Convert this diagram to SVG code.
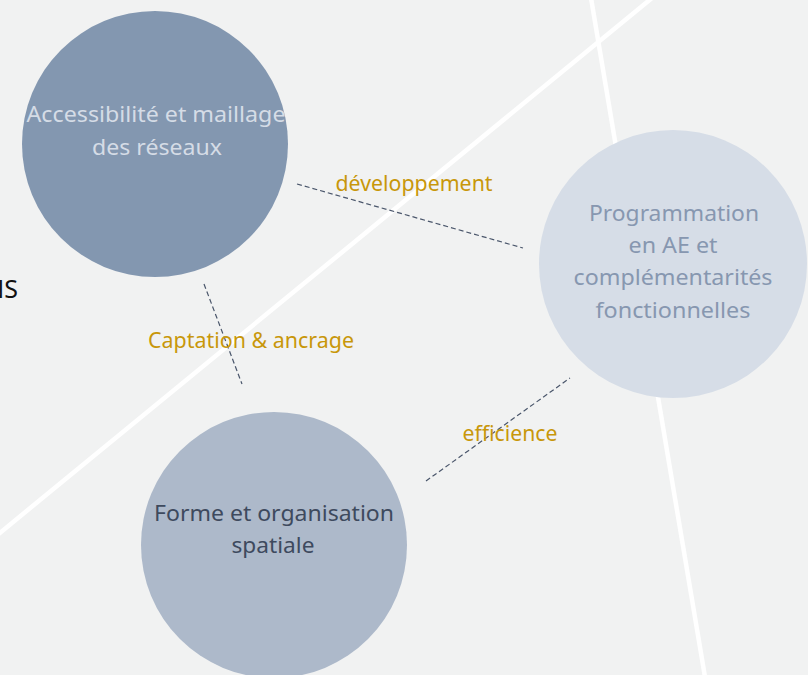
<svg xmlns="http://www.w3.org/2000/svg" width="808" height="675" viewBox="0 0 808 675">
<style>
text{font-family:"Noto Sans","Open Sans","DejaVu Sans",sans-serif;font-size:22px;text-anchor:middle}
.w{stroke:#FFFFFF;stroke-width:4.5;fill:none}
.d{stroke:#4A566B;stroke-width:1.2;stroke-dasharray:5 3;fill:none}
.lbl{fill:#C8970A}
</style>
<rect width="808" height="675" fill="#F1F2F2"/>
<g id="background-lines">
<line class="w" x1="-10" y1="541" x2="652" y2="-2"/>
<line class="w" x1="591" y1="-2" x2="705" y2="677"/>
</g>
<text x="18" y="298" style="text-anchor:end;font-size:25px;fill:#111">NS</text>
<g id="node-accessibilite">
<circle cx="155" cy="144" r="133" fill="#8397B0"/>
<text x="156" y="122" fill="#D5DCE6" textLength="259" lengthAdjust="spacingAndGlyphs">Accessibilité et maillage</text>
<text x="157" y="155" fill="#D5DCE6" textLength="130" lengthAdjust="spacingAndGlyphs">des réseaux</text>
</g>
<g id="node-programmation">
<circle cx="673" cy="264" r="134" fill="#D6DDE7"/>
<text x="674" y="221" fill="#8797B0" textLength="170" lengthAdjust="spacingAndGlyphs">Programmation</text>
<text x="673" y="253" fill="#8797B0" textLength="89" lengthAdjust="spacingAndGlyphs">en AE et</text>
<text x="673" y="285" fill="#8797B0" textLength="199" lengthAdjust="spacingAndGlyphs">complémentarités</text>
<text x="673" y="318" fill="#8797B0" textLength="155" lengthAdjust="spacingAndGlyphs">fonctionnelles</text>
</g>
<g id="node-forme">
<circle cx="274" cy="545" r="133" fill="#ADB9CA"/>
<text x="274" y="521" fill="#3E4A5E" textLength="240" lengthAdjust="spacingAndGlyphs">Forme et organisation</text>
<text x="273" y="553" fill="#3E4A5E" textLength="83" lengthAdjust="spacingAndGlyphs">spatiale</text>
</g>
<g id="connectors">
<line class="d" x1="297" y1="184" x2="523" y2="248"/>
<line class="d" x1="204" y1="284" x2="242" y2="384"/>
<line class="d" x1="426" y1="481" x2="570" y2="378"/>
<text class="lbl" x="414" y="191" textLength="157" lengthAdjust="spacingAndGlyphs">développement</text>
<text class="lbl" x="251" y="348" textLength="206" lengthAdjust="spacingAndGlyphs">Captation &amp; ancrage</text>
<text class="lbl" x="510" y="441" textLength="95" lengthAdjust="spacingAndGlyphs">efficience</text>
</g>
</svg>
